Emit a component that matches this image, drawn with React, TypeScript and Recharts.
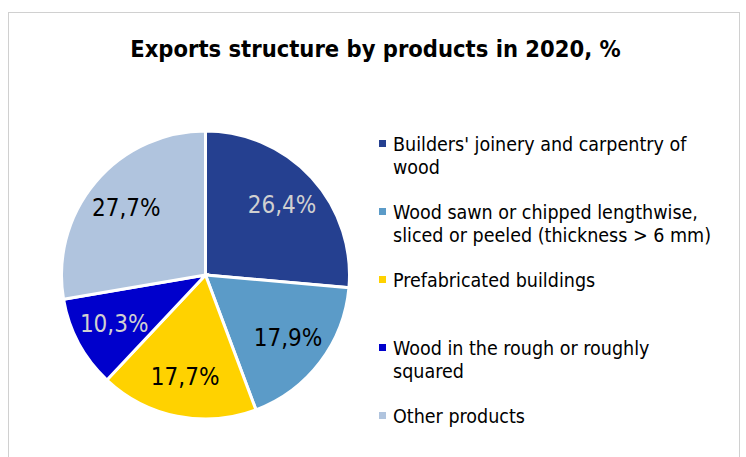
import { PieChart, Pie, Cell, Legend } from "recharts";

const categories = [
  "Builders' joinery and carpentry of wood",
  "Wood sawn or chipped lengthwise, sliced or peeled (thickness > 6 mm)",
  "Prefabricated buildings",
  "Wood in the rough or roughly squared",
  "Other products",
];
const shares = [26.4, 17.9, 17.7, 10.3, 27.7];
const colors = ["#254090", "#5b9bc8", "#ffd200", "#0000cc", "#b0c4de"];
const labelColors = ["#d0d0d0", "#000000", "#000000", "#d0d0d0", "#000000"];

const data = categories.map((name, i) => ({ name, value: shares[i] }));

const FONT = '"DejaVu Sans Condensed", "DejaVu Sans", sans-serif';
const RADIAN = Math.PI / 180;

const renderLabel = (props: any) => {
  const { cx, cy, midAngle, outerRadius, index, value } = props;
  const r = outerRadius * 0.72;
  const x = cx + r * Math.cos(-midAngle * RADIAN);
  const y = cy + r * Math.sin(-midAngle * RADIAN);
  return (
    <text
      x={x}
      y={y}
      fill={labelColors[index]}
      textAnchor="middle"
      dominantBaseline="central"
      fontSize={24}
      fontFamily={FONT}
    >
      {value.toFixed(1).replace(".", ",")}%
    </text>
  );
};

const renderLegend = () => (
  <div style={{ fontFamily: FONT, fontSize: 19.5, color: "#000", width: 342 }}>
    {categories.map((c, i) => (
      <div key={c} style={{ display: "flex", height: 68, lineHeight: "23px" }}>
        <span
          style={{
            width: 7,
            height: 7,
            background: colors[i],
            marginTop: 7,
            marginRight: 7,
            flexShrink: 0,
          }}
        />
        <span>{c}</span>
      </div>
    ))}
  </div>
);

export default function App() {
  return (
    <div
      style={{
        position: "absolute",
        left: 0,
        top: 0,
        width: 746,
        height: 457,
        overflow: "hidden",
        background: "#fff",
      }}
    >
      <div
        style={{
          position: "absolute",
          left: 8,
          top: 12,
          width: 730,
          height: 470,
          border: "1px solid #d0d0d0",
        }}
      />
      <div
        style={{
          position: "absolute",
          left: 5,
          top: 35,
          width: 741,
          textAlign: "center",
          fontFamily: FONT,
          fontWeight: "bold",
          fontSize: 23.5,
          color: "#000",
        }}
      >
        Exports structure by products in 2020, %
      </div>
      <div style={{ position: "absolute", left: 0, top: 0 }}>
        <PieChart
          width={746}
          height={457}
          margin={{ top: 0, right: 0, bottom: 0, left: 0 }}
        >
          <Pie
            data={data}
            dataKey="value"
            nameKey="name"
            cx={205.5}
            cy={275}
            outerRadius={144}
            startAngle={90}
            endAngle={-270}
            stroke="#ffffff"
            strokeWidth={3}
            label={renderLabel}
            labelLine={false}
            isAnimationActive={false}
          >
            {data.map((d, i) => (
              <Cell key={d.name} fill={colors[i]} />
            ))}
          </Pie>
          <Legend
            content={renderLegend}
            layout="vertical"
            wrapperStyle={{ position: "absolute", left: 379, top: 133, width: 350 }}
          />
        </PieChart>
      </div>
    </div>
  );
}
